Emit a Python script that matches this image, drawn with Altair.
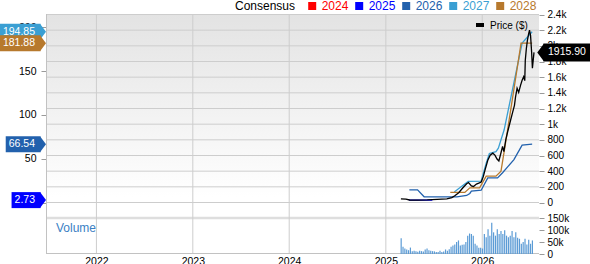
import altair as alt
import pandas as pd

FONT = "Liberation Sans"

# ---------------- data ----------------
price_dates = ["2025-02-27", "2025-03-18", "2025-04-01", "2025-05-01", "2025-06-07", "2025-07-14",
               "2025-08-20", "2025-09-08", "2025-09-19", "2025-10-04", "2025-10-19", "2025-11-03",
               "2025-11-10", "2025-11-21", "2025-11-29", "2025-12-10", "2025-12-21", "2025-12-28",
               "2026-01-05", "2026-01-12", "2026-01-22", "2026-01-31", "2026-02-10", "2026-02-18",
               "2026-02-26", "2026-03-05", "2026-03-13", "2026-03-19", "2026-03-24", "2026-03-31",
               "2026-04-07", "2026-04-19", "2026-04-26", "2026-05-03", "2026-05-07", "2026-05-13",
               "2026-05-19", "2026-05-26", "2026-06-01", "2026-06-07", "2026-06-11", "2026-06-13",
               "2026-06-17", "2026-06-21", "2026-06-26", "2026-06-29", "2026-07-03", "2026-07-07",
               "2026-07-10", "2026-07-16"]
price_values = [47, 44, 32, 30, 33, 40, 46, 62, 85, 125,
                185, 240, 255, 212, 205, 235, 250, 262, 330, 420,
                540, 605, 630, 605, 555, 530, 635, 715, 650, 800,
                900, 1060, 1150, 1240, 1345, 1460, 1405, 1495, 1560, 1605,
                1555, 1815, 1965, 2070, 2160, 2200, 2130, 1920, 1715, 1915.90]

eps_years = ["2024", "2025", "2026", "2027", "2028"]
eps_colors = ["#ff0000", "#0000ff", "#2261ad", "#3a9fd3", "#b7792d"]

eps2025_dates = ["2025-03-29", "2025-06-26"]
eps2025_values = [2.73, 2.73]

eps2026_dates = ["2025-03-31", "2025-05-01", "2025-05-26", "2025-09-27", "2025-11-03", "2025-11-15",
                 "2025-11-21", "2025-12-28", "2026-01-22", "2026-02-28", "2026-03-19", "2026-05-01",
                 "2026-06-01", "2026-07-09"]
eps2026_values = [14.5, 14.5, 6.5, 6.5, 8, 10.3, 13, 14, 28, 28, 34, 49, 65.5, 66.54]

eps2027_dates = ["2025-09-17", "2025-10-08", "2025-11-09", "2025-12-28", "2026-01-16", "2026-01-28",
                 "2026-02-22", "2026-03-03", "2026-03-25", "2026-06-01", "2026-07-09"]
eps2027_values = [12, 16.8, 24, 24.5, 45, 56, 58, 62, 83, 182, 194.85]

eps2028_dates = ["2025-09-02", "2025-10-27", "2025-11-15", "2025-12-22", "2026-01-16", "2026-02-22",
                 "2026-03-13", "2026-03-25", "2026-04-06", "2026-05-28", "2026-07-09"]
eps2028_values = [11.5, 11.5, 16.8, 16.8, 30, 30, 35.8, 58, 81, 181.88, 181.88]

volume_start = "2025-02-28"
volume_k = [66, 30, 23, 19, 16, 27, 12, 13.5, 12, 9.5,
            13.5, 12, 11, 19, 23, 16, 13.5, 12, 11, 8,
            8, 13.5, 8, 11, 19, 13.5, 20, 30, 36, 40,
            50, 57, 36, 39, 40, 50, 77, 86, 84, 77,
            43, 36, 26, 26, 23, 84, 70, 104, 77, 131,
            91, 77, 104, 84, 97, 84, 100, 77, 70, 77,
            97, 70, 91, 68, 64, 43, 50, 64, 40, 60,
            43, 57]

years = [2022, 2023, 2024, 2025, 2026]
price_ticks = list(range(0, 2401, 200))
eps_ticks = [0, 50, 100, 150, 200]
volume_ticks = [0, 50000, 100000, 150000]

# ---------------- tables ----------------
price_df = pd.DataFrame({"date": price_dates, "price": price_values})
eps_series = {"2025": (eps2025_dates, eps2025_values), "2026": (eps2026_dates, eps2026_values),
              "2027": (eps2027_dates, eps2027_values), "2028": (eps2028_dates, eps2028_values)}
eps_df = pd.concat([pd.DataFrame({"date": d, "value": v, "year": y}) for y, (d, v) in eps_series.items()])
vol_df = pd.DataFrame({
    "date": pd.date_range(volume_start, periods=len(volume_k), freq="7D").strftime("%Y-%m-%d"),
    "volume": [v * 1000 for v in volume_k],
})
one = pd.DataFrame({"a": [0]})

# ---------------- layout ----------------
W, H = 493, 240
MAIN_BOTTOM = 203
GRID = "#cdcdcd"

x_scale = alt.Scale(type="utc", domain=[alt.DateTime(year=2021, month=7, date=13, utc=True),
                                        alt.DateTime(year=2026, month=7, date=16, utc=True)])
x_axis = alt.Axis(values=[alt.DateTime(year=y, month=1, date=1, utc=True) for y in years],
                  labelExpr="utcFormat(datum.value, '%Y')", ticks=False, domain=False, grid=False,
                  labelPadding=2, labelFontSize=10.5, labelFont=FONT, labelColor="#000000",
                  labelFlush=False, labelOverlap=False)


def xenc(field):
    return alt.X(f"{field}:T", scale=x_scale, axis=x_axis, title=None)


price_scale = alt.Scale(domain=[0, 2400], range=[188.5, 0.5], nice=False, zero=False)
eps_scale = alt.Scale(domain=[0, 214.6], range=[188.5, 0.5], nice=False, zero=False)
vol_scale = alt.Scale(domain=[0, 150000], range=[240, 204.3], nice=False)

ycommon = dict(labelFont=FONT, labelColor="#000000", tickColor="#9a9a9a", domain=False, grid=False,
               labelOverlap=False, labelFlush=False, title=None, tickSize=5)
eps_axis = alt.Axis(orient="left", values=eps_ticks, labelPadding=5, labelFontSize=10.5, **ycommon)
price_axis = alt.Axis(orient="right", values=price_ticks, labelPadding=3, labelFontSize=10,
                      labelExpr="datum.value >= 1000 ? format(datum.value / 1000, '.1~f') + 'k' : format(datum.value, 'd')",
                      **ycommon)
vol_axis = alt.Axis(orient="right", values=volume_ticks, labelPadding=3, labelFontSize=10,
                    labelExpr="datum.value == 0 ? '0' : format(datum.value / 1000, 'd') + 'k'",
                    **ycommon)

eps_y = alt.Y("value:Q", scale=eps_scale, axis=eps_axis, title=None)
price_y = alt.Y("price:Q", scale=price_scale, axis=price_axis, title=None)


def text_width(s, fs):
    return sum(0.556 * fs if c.isdigit() else 0.278 * fs for c in s)


layers = []

# background gradient of the main panel
layers.append(alt.Chart(one).mark_rect(
    color=alt.Gradient(gradient="linear",
                       stops=[alt.GradientStop(color="#e3e3e3", offset=0),
                              alt.GradientStop(color="#ffffff", offset=0.9)],
                       x1=0, x2=0, y1=0, y2=1)
).encode(x=alt.value(0), x2=alt.value(W), y=alt.value(0), y2=alt.value(MAIN_BOTTOM)))

# separator between price and volume panels
layers.append(alt.Chart(one).mark_rule(color="#dedede", strokeWidth=2.5).encode(
    x=alt.value(0), x2=alt.value(W), y=alt.value(204)))

# horizontal grid (price ticks)
layers.append(alt.Chart(pd.DataFrame({"v": price_ticks})).mark_rule(color=GRID, strokeWidth=1).encode(
    x=alt.value(0), x2=alt.value(W), y=alt.Y("v:Q", scale=price_scale, axis=None)))

# vertical grid (years)
layers.append(alt.Chart(pd.DataFrame({"d": [f"{y}-01-01" for y in years]})).mark_rule(
    color=GRID, strokeWidth=1).encode(x=xenc("d"), y=alt.value(0), y2=alt.value(H)))

# borders
layers.append(alt.Chart(one).mark_rule(color="#c2c2c2", strokeWidth=1).encode(
    x=alt.value(0.5), y=alt.value(0), y2=alt.value(H)))
layers.append(alt.Chart(one).mark_rule(color="#c2c2c2", strokeWidth=1).encode(
    x=alt.value(0), x2=alt.value(W), y=alt.value(H - 0.5)))

# volume bars
layers.append(alt.Chart(vol_df).mark_bar(width=1.2, color="#5b9bd5").encode(
    x=xenc("date"), y=alt.Y("volume:Q", scale=vol_scale, axis=vol_axis, title=None)))

# consensus lines + badges
eps_layers = [alt.Chart(eps_df).mark_line(strokeWidth=1.3).encode(
    x=xenc("date"), y=eps_y,
    color=alt.Color("year:N", scale=alt.Scale(domain=eps_years, range=eps_colors), legend=None),
)]
for yr, (d, v) in eps_series.items():
    col = eps_colors[eps_years.index(yr)]
    last = v[-1]
    label = f"{last:.2f}"
    left = -11 - text_width(label, 10.5) - 3
    bdf = pd.DataFrame({"value": [last], "label": [label]})
    eps_layers.append(alt.Chart(bdf).mark_rule(color=col, strokeWidth=16).encode(
        x=alt.value(left), x2=alt.value(-5.5), y=eps_y))
    eps_layers.append(alt.Chart(bdf).mark_point(shape="M0,-1L0.75,0L0,1Z", size=256, filled=True,
                                                opacity=1, color=col, strokeWidth=0).encode(
        x=alt.value(-6), y=eps_y))
    eps_layers.append(alt.Chart(bdf).mark_text(align="right", baseline="middle", color="white",
                                               font=FONT, fontSize=10.5).encode(
        x=alt.value(-11), y=eps_y, text="label:N"))
layers.append(alt.layer(*eps_layers))

# price line + badge
last_price = price_values[-1]
pdf = pd.DataFrame({"price": [last_price], "label": [f"{last_price:.2f}"]})
price_layers = [
    alt.Chart(price_df).mark_line(color="#000000", strokeWidth=1.3).encode(x=xenc("date"), y=price_y),
    alt.Chart(pdf).mark_rule(color="#000000", strokeWidth=18).encode(
        x=alt.value(497.5), x2=alt.value(W + 60), y=price_y),
    alt.Chart(pdf).mark_point(shape="M0,-1L-0.75,0L0,1Z", size=324, filled=True, opacity=1,
                              color="#000000", strokeWidth=0).encode(x=alt.value(498), y=price_y),
    alt.Chart(pdf).mark_text(align="left", baseline="middle", color="white", font=FONT,
                             fontSize=10.5).encode(x=alt.value(502), y=price_y, text="label:N"),
]
layers.append(alt.layer(*price_layers))

# price legend
layers.append(alt.Chart(one).mark_rule(color="#000000", strokeWidth=4).encode(
    x=alt.value(430), x2=alt.value(438), y=alt.value(11)))
layers.append(alt.Chart(one).mark_text(text="Price ($)", align="left", baseline="middle", font=FONT,
                                       fontSize=10, color="#000000").encode(
    x=alt.value(444), y=alt.value(11.5)))

# volume label
layers.append(alt.Chart(one).mark_text(text="Volume", align="left", baseline="alphabetic", font=FONT,
                                       fontSize=12, color="#3b7fc4").encode(
    x=alt.value(10), y=alt.value(218)))

# consensus legend
layers.append(alt.Chart(one).mark_text(text="Consensus", align="left", baseline="alphabetic", font=FONT,
                                       fontSize=12, color="#000000").encode(
    x=alt.value(189), y=alt.value(-4)))
for i, (yr, col) in enumerate(zip(eps_years, eps_colors)):
    layers.append(alt.Chart(one).mark_square(size=64, filled=True, opacity=1, color=col).encode(
        x=alt.value(266.2 + 47 * i), y=alt.value(-8)))
    layers.append(alt.Chart(one).mark_text(text=yr, align="left", baseline="alphabetic", font=FONT,
                                           fontSize=12, color=col).encode(
        x=alt.value(275.7 + 47 * i), y=alt.value(-4)))

chart = alt.layer(*layers).resolve_scale(y="independent").properties(
    width=W, height=H,
    autosize=alt.AutoSizeParams(type="none"),
    padding={"left": 46, "top": 14, "right": 51, "bottom": 10},
    background="white",
).configure_view(strokeWidth=0)

chart.save("out.html", embed_options={"renderer": "svg", "actions": False})
